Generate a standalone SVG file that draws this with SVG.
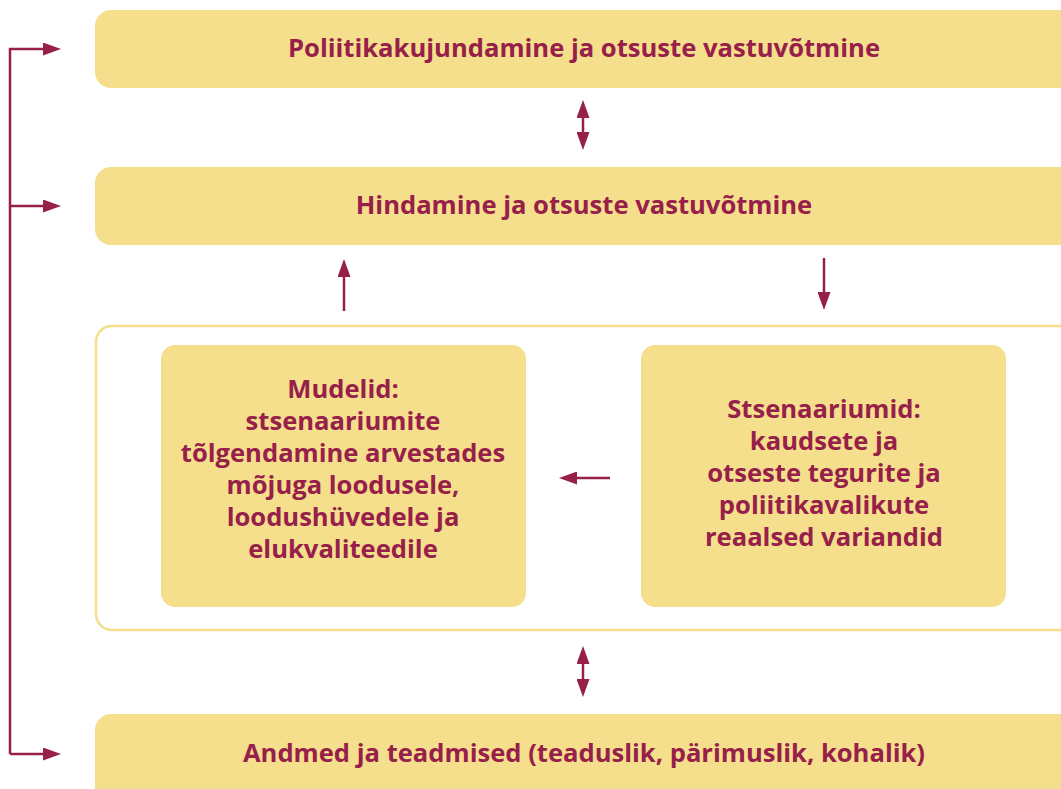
<svg xmlns="http://www.w3.org/2000/svg" width="1061" height="789" viewBox="0 0 1061 789">
<defs>
<style>
.box{fill:#F5DF8C;}
.frame{fill:#FFFFFF;stroke:#F5DF8C;stroke-width:2.5;}
.t{font-family:"Open Sans","Noto Sans","Liberation Sans",sans-serif;font-weight:700;fill:#97204A;text-anchor:middle;}
.big{font-size:25.6px;}
.mid{font-size:25.6px;}
.ln{fill:none;stroke:#97204A;stroke-width:2.5;}
</style>
<marker id="ah" viewBox="0 0 18 13" refX="1" refY="6.5" markerWidth="18" markerHeight="13" markerUnits="userSpaceOnUse" orient="auto-start-reverse">
<path d="M0,0 L18,6.5 L0,13 Z" fill="#97204A"/>
</marker>
</defs>
<rect width="1061" height="789" fill="#FFFFFF"/>
<g id="node-policy">
<rect class="box" x="95" y="10" width="990" height="78" rx="16"/>
<text class="t big" x="584" y="57">Poliitikakujundamine ja otsuste vastuvõtmine</text>
</g>
<g id="node-assessment">
<rect class="box" x="95" y="167" width="990" height="78" rx="16"/>
<text class="t big" x="584" y="214">Hindamine ja otsuste vastuvõtmine</text>
</g>
<g id="node-frame">
<rect class="frame" x="96" y="326" width="990" height="304" rx="16"/>
</g>
<g id="node-models">
<rect class="box" x="161" y="345" width="365" height="262" rx="14"/>
<text class="t mid" x="343" y="398">Mudelid:</text>
<text class="t mid" x="343" y="430">stsenaariumite</text>
<text class="t mid" x="343" y="462">tõlgendamine arvestades</text>
<text class="t mid" x="343" y="494">mõjuga loodusele,</text>
<text class="t mid" x="343" y="526">loodushüvedele ja</text>
<text class="t mid" x="343" y="558">elukvaliteedile</text>
</g>
<g id="node-scenarios">
<rect class="box" x="641" y="345" width="365" height="262" rx="14"/>
<text class="t mid" x="824" y="418">Stsenaariumid:</text>
<text class="t mid" x="824" y="450">kaudsete ja</text>
<text class="t mid" x="824" y="482">otseste tegurite ja</text>
<text class="t mid" x="824" y="514">poliitikavalikute</text>
<text class="t mid" x="824" y="546">reaalsed variandid</text>
</g>
<g id="node-data">
<rect class="box" x="95" y="714" width="990" height="90" rx="16"/>
<text class="t big" x="584" y="762">Andmed ja teadmised (teaduslik, pärimuslik, kohalik)</text>
</g>
<g id="connectors">
<path class="ln" d="M10,754 L10,49 L44,49" marker-end="url(#ah)"/>
<path class="ln" d="M10,206 L44,206" marker-end="url(#ah)"/>
<path class="ln" d="M10,754 L44,754" marker-end="url(#ah)"/>
<path class="ln" d="M583,117 L583,133" marker-start="url(#ah)" marker-end="url(#ah)"/>
<path class="ln" d="M344,311 L344,276" marker-end="url(#ah)"/>
<path class="ln" d="M824,258 L824,293" marker-end="url(#ah)"/>
<path class="ln" d="M610,478 L576,478" marker-end="url(#ah)"/>
<path class="ln" d="M583,663 L583,680" marker-start="url(#ah)" marker-end="url(#ah)"/>
</g>
</svg>
